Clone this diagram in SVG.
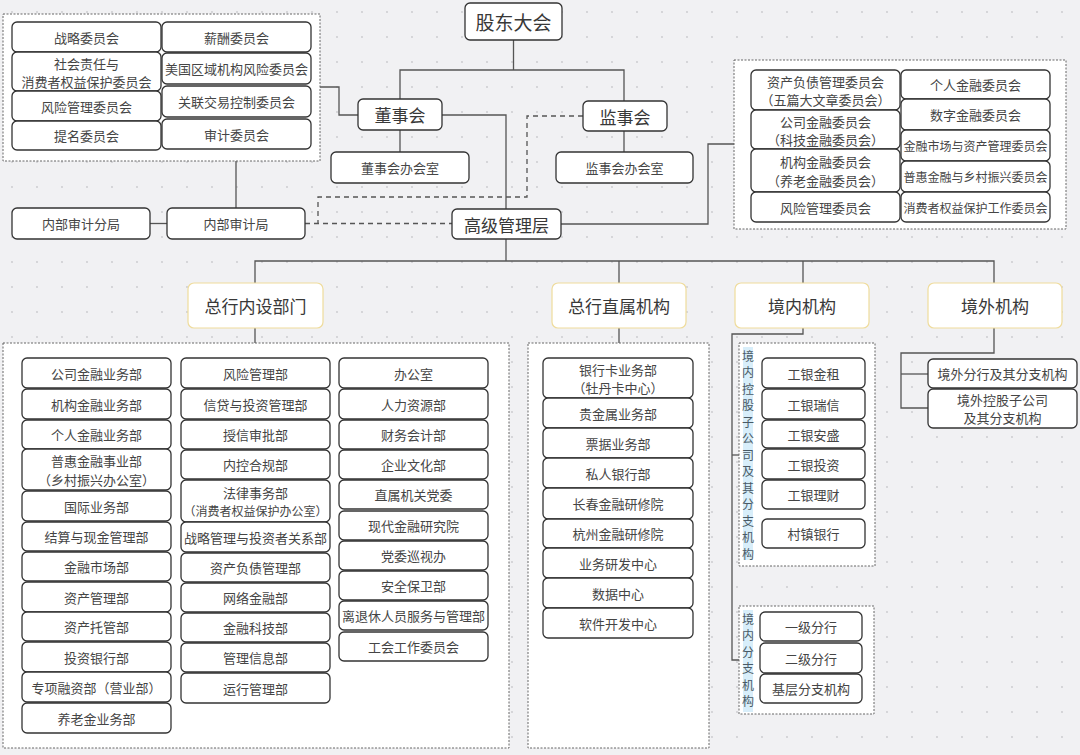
<svg xmlns="http://www.w3.org/2000/svg" width="1080" height="755" viewBox="0 0 1080 755">
<defs>
<pattern id="dots" x="0" y="0" width="25" height="25" patternUnits="userSpaceOnUse">
<circle cx="12" cy="12" r="0.9" fill="#c9c9cc"/>
</pattern>
<style>
.bx{fill:#fff;stroke:#333;stroke-width:1.3}
.cat{fill:#fff;stroke:#efdc9c;stroke-width:1.2}
.cont{fill:#fff;stroke:#666;stroke-width:1;stroke-dasharray:2 1.5}
.t{font-family:"Noto Sans CJK SC","Noto Sans",sans-serif;font-size:13px;fill:#454545;text-anchor:middle;dominant-baseline:central}
.s{font-size:12px}
.L{font-size:17px;fill:#383838}
.v{font-size:12px;fill:#4a5a66}
.ln{fill:none;stroke:#555;stroke-width:1.3}
.dash{stroke-dasharray:5 4}
.vbg{fill:#d8eefa}
</style>
</defs>
<rect width="1080" height="755" fill="#f1f1f3"/>
<rect width="1080" height="755" fill="url(#dots)"/>

<g id="connectors">
<path class="ln" d="M513.5,40 V70"/>
<path class="ln" d="M400,99 V70 H624 V101"/>
<path class="ln" d="M400,130 V152"/>
<path class="ln" d="M624,131 V152"/>
<path class="ln" d="M320,87 H339 V115 H358"/>
<path class="ln" d="M442,115 H506 V209"/>
<path class="ln" d="M236,149 V208"/>
<path class="ln" d="M150,223.5 H167"/>
<path class="ln" d="M561,224 H708 V144 H734"/>
<path class="ln dash" d="M583,116 H527 V197 H318 V223.5"/>
<path class="ln dash" d="M305,223.5 H452"/>
<path class="ln" d="M506,239 V261"/>
<path class="ln" d="M255,283 V261 H994 V283"/>
<path class="ln" d="M619,261 V283"/>
<path class="ln" d="M803,261 V283"/>
<path class="ln" d="M255,328 V343"/>
<path class="ln" d="M619,328 V343"/>
<path class="ln" d="M803,328 V334 H732 V660 H739"/>
<path class="ln" d="M732,455 H739"/>
<path class="ln" d="M994,328 V353 H901 V408 H928"/>
<path class="ln" d="M901,374 H928"/>
</g>

<g id="gudongdahui"><rect class="bx" x="465" y="3" width="97" height="37" rx="5"/><text class="t L" x="513.5" y="21.5" style="font-size:19px">股东大会</text></g>
<g id="dongshihui"><rect class="bx" x="358" y="99" width="84" height="31" rx="5"/><text class="t L" x="400" y="114.5">董事会</text></g>
<g id="jianshihui"><rect class="bx" x="583" y="101" width="84" height="30" rx="5"/><text class="t L" x="625" y="116">监事会</text></g>
<g id="dongshihui-office"><rect class="bx" x="331" y="152" width="138" height="31" rx="5"/><text class="t" x="400" y="167.5">董事会办会室</text></g>
<g id="jianshihui-office"><rect class="bx" x="556" y="152" width="137" height="31" rx="5"/><text class="t" x="624.5" y="167.5">监事会办会室</text></g>
<g id="senior-mgmt"><rect class="bx" x="452" y="209" width="109" height="30" rx="5"/><text class="t L" x="506.5" y="224">高级管理层</text></g>

<g id="board-committees">
<rect class="cont" x="3" y="14" width="317" height="147"/>
<rect class="bx" x="12" y="22" width="149" height="30" rx="5"/><text class="t" x="86.5" y="37">战略委员会</text>
<rect class="bx" x="162" y="22" width="149" height="30" rx="5"/><text class="t" x="236.5" y="37">薪酬委员会</text>
<rect class="bx" x="12" y="52" width="149" height="39" rx="5"/><text class="t" x="86.5" y="63">社会责任与</text><text class="t" x="86.5" y="81">消费者权益保护委员会</text>
<rect class="bx" x="162" y="53" width="149" height="31" rx="5"/><text class="t" x="236.5" y="68.5">美国区域机构风险委员会</text>
<rect class="bx" x="12" y="91" width="149" height="30" rx="5"/><text class="t" x="86.5" y="106">风险管理委员会</text>
<rect class="bx" x="162" y="86" width="149" height="31" rx="5"/><text class="t" x="236.5" y="101.5">关联交易控制委员会</text>
<rect class="bx" x="12" y="121" width="149" height="29" rx="5"/><text class="t" x="86.5" y="135.5">提名委员会</text>
<rect class="bx" x="162" y="119" width="149" height="30" rx="5"/><text class="t" x="236.5" y="134">审计委员会</text>
</g>

<g id="audit-branch"><rect class="bx" x="12" y="208" width="138" height="31" rx="5"/><text class="t" x="81" y="223.5">内部审计分局</text></g>
<g id="audit-bureau"><rect class="bx" x="167" y="208" width="138" height="31" rx="5"/><text class="t" x="236" y="223.5">内部审计局</text></g>

<g id="mgmt-committees">
<rect class="cont" x="734" y="60" width="332" height="169"/>
<rect class="bx" x="751" y="70" width="149" height="40" rx="5"/><text class="t" x="825.5" y="81">资产负债管理委员会</text><text class="t" x="825.5" y="99">（五篇大文章委员会）</text>
<rect class="bx" x="751" y="110" width="149" height="39" rx="5"/><text class="t" x="825.5" y="121">公司金融委员会</text><text class="t" x="825.5" y="139">（科技金融委员会）</text>
<rect class="bx" x="751" y="149" width="149" height="43" rx="5"/><text class="t" x="825.5" y="161">机构金融委员会</text><text class="t" x="825.5" y="180">（养老金融委员会）</text>
<rect class="bx" x="751" y="192" width="149" height="30" rx="5"/><text class="t" x="825.5" y="207">风险管理委员会</text>
<rect class="bx" x="901" y="70" width="149" height="29" rx="5"/><text class="t" x="975.5" y="84.5">个人金融委员会</text>
<rect class="bx" x="901" y="99" width="149" height="31" rx="5"/><text class="t" x="975.5" y="114.5">数字金融委员会</text>
<rect class="bx" x="901" y="130" width="149" height="31" rx="5"/><text class="t s" x="975.5" y="145.5">金融市场与资产管理委员会</text>
<rect class="bx" x="901" y="161" width="149" height="31" rx="5"/><text class="t s" x="975.5" y="176.5">普惠金融与乡村振兴委员会</text>
<rect class="bx" x="901" y="192" width="149" height="30" rx="5"/><text class="t s" x="975.5" y="207">消费者权益保护工作委员会</text>
</g>

<g id="cat-internal"><rect class="cat" x="188" y="283" width="135" height="45" rx="6"/><text class="t L" x="255.5" y="305.5">总行内设部门</text></g>
<g id="cat-direct"><rect class="cat" x="552" y="283" width="134" height="45" rx="6"/><text class="t L" x="619" y="305.5">总行直属机构</text></g>
<g id="cat-domestic"><rect class="cat" x="735" y="283" width="134" height="45" rx="6"/><text class="t L" x="802" y="305.5">境内机构</text></g>
<g id="cat-overseas"><rect class="cat" x="928" y="283" width="134" height="45" rx="6"/><text class="t L" x="995" y="305.5">境外机构</text></g>

<g id="internal-depts">
<rect class="cont" x="3" y="343" width="506" height="405"/>
<rect class="bx" x="22" y="358" width="149" height="30" rx="5"/><text class="t" x="96.5" y="373">公司金融业务部</text>
<rect class="bx" x="22" y="389" width="149" height="30" rx="5"/><text class="t" x="96.5" y="404">机构金融业务部</text>
<rect class="bx" x="22" y="420" width="149" height="29" rx="5"/><text class="t" x="96.5" y="434.5">个人金融业务部</text>
<rect class="bx" x="22" y="449" width="149" height="41" rx="5"/><text class="t" x="96.5" y="460">普惠金融事业部</text><text class="t" x="96.5" y="479">（乡村振兴办公室）</text>
<rect class="bx" x="22" y="491" width="149" height="30" rx="5"/><text class="t" x="96.5" y="506">国际业务部</text>
<rect class="bx" x="22" y="522" width="149" height="29" rx="5"/><text class="t" x="96.5" y="536.5">结算与现金管理部</text>
<rect class="bx" x="22" y="552" width="149" height="29" rx="5"/><text class="t" x="96.5" y="566.5">金融市场部</text>
<rect class="bx" x="22" y="582" width="149" height="30" rx="5"/><text class="t" x="96.5" y="597">资产管理部</text>
<rect class="bx" x="22" y="612" width="149" height="29" rx="5"/><text class="t" x="96.5" y="626.5">资产托管部</text>
<rect class="bx" x="22" y="642" width="149" height="30" rx="5"/><text class="t" x="96.5" y="657">投资银行部</text>
<rect class="bx" x="22" y="672" width="149" height="30" rx="5"/><text class="t" x="96.5" y="687">专项融资部（营业部）</text>
<rect class="bx" x="22" y="703" width="149" height="30" rx="5"/><text class="t" x="96.5" y="718">养老金业务部</text>

<rect class="bx" x="181" y="358" width="149" height="30" rx="5"/><text class="t" x="255.5" y="373">风险管理部</text>
<rect class="bx" x="181" y="389" width="149" height="30" rx="5"/><text class="t" x="255.5" y="404">信贷与投资管理部</text>
<rect class="bx" x="181" y="420" width="149" height="29" rx="5"/><text class="t" x="255.5" y="434.5">授信审批部</text>
<rect class="bx" x="181" y="450" width="149" height="29" rx="5"/><text class="t" x="255.5" y="464.5">内控合规部</text>
<rect class="bx" x="181" y="480" width="149" height="42" rx="5"/><text class="t" x="255.5" y="492">法律事务部</text><text class="t s" x="255.5" y="510">（消费者权益保护办公室）</text>
<rect class="bx" x="181" y="522" width="149" height="30" rx="5"/><text class="t" x="255.5" y="537">战略管理与投资者关系部</text>
<rect class="bx" x="181" y="553" width="149" height="29" rx="5"/><text class="t" x="255.5" y="567.5">资产负债管理部</text>
<rect class="bx" x="181" y="583" width="149" height="29" rx="5"/><text class="t" x="255.5" y="597.5">网络金融部</text>
<rect class="bx" x="181" y="613" width="149" height="29" rx="5"/><text class="t" x="255.5" y="627.5">金融科技部</text>
<rect class="bx" x="181" y="643" width="149" height="29" rx="5"/><text class="t" x="255.5" y="657.5">管理信息部</text>
<rect class="bx" x="181" y="673" width="149" height="30" rx="5"/><text class="t" x="255.5" y="688">运行管理部</text>

<rect class="bx" x="339" y="358" width="149" height="30" rx="5"/><text class="t" x="413.5" y="373">办公室</text>
<rect class="bx" x="339" y="389" width="149" height="30" rx="5"/><text class="t" x="413.5" y="404">人力资源部</text>
<rect class="bx" x="339" y="420" width="149" height="29" rx="5"/><text class="t" x="413.5" y="434.5">财务会计部</text>
<rect class="bx" x="339" y="450" width="149" height="29" rx="5"/><text class="t" x="413.5" y="464.5">企业文化部</text>
<rect class="bx" x="339" y="480" width="149" height="29" rx="5"/><text class="t" x="413.5" y="494.5">直属机关党委</text>
<rect class="bx" x="339" y="511" width="149" height="29" rx="5"/><text class="t" x="413.5" y="525.5">现代金融研究院</text>
<rect class="bx" x="339" y="541" width="149" height="29" rx="5"/><text class="t" x="413.5" y="555.5">党委巡视办</text>
<rect class="bx" x="339" y="571" width="149" height="29" rx="5"/><text class="t" x="413.5" y="585.5">安全保卫部</text>
<rect class="bx" x="339" y="601" width="149" height="29" rx="5"/><text class="t" x="413.5" y="615.5">离退休人员服务与管理部</text>
<rect class="bx" x="339" y="632" width="149" height="29" rx="5"/><text class="t" x="413.5" y="646.5">工会工作委员会</text>
</g>

<g id="direct-units">
<rect class="cont" x="528" y="343" width="181" height="405"/>
<rect class="bx" x="543" y="358" width="150" height="40" rx="5"/><text class="t" x="618" y="369">银行卡业务部</text><text class="t" x="618" y="387">（牡丹卡中心）</text>
<rect class="bx" x="543" y="398" width="150" height="30" rx="5"/><text class="t" x="618" y="413">贵金属业务部</text>
<rect class="bx" x="543" y="428" width="150" height="30" rx="5"/><text class="t" x="618" y="443">票据业务部</text>
<rect class="bx" x="543" y="458" width="150" height="30" rx="5"/><text class="t" x="618" y="473">私人银行部</text>
<rect class="bx" x="543" y="488" width="150" height="31" rx="5"/><text class="t" x="618" y="503.5">长春金融研修院</text>
<rect class="bx" x="543" y="519" width="150" height="29" rx="5"/><text class="t" x="618" y="533.5">杭州金融研修院</text>
<rect class="bx" x="543" y="548" width="150" height="30" rx="5"/><text class="t" x="618" y="563">业务研发中心</text>
<rect class="bx" x="543" y="578" width="150" height="30" rx="5"/><text class="t" x="618" y="593">数据中心</text>
<rect class="bx" x="543" y="608" width="150" height="30" rx="5"/><text class="t" x="618" y="623">软件开发中心</text>
</g>

<g id="domestic-subsidiaries">
<rect class="cont" x="739" y="343" width="136" height="223"/>
<rect class="vbg" x="743" y="347" width="10" height="213"/>
<text class="t v" x="748" y="355">境</text><text class="t v" x="748" y="371.5">内</text><text class="t v" x="748" y="388">控</text><text class="t v" x="748" y="404.5">股</text><text class="t v" x="748" y="421">子</text><text class="t v" x="748" y="437.5">公</text><text class="t v" x="748" y="454">司</text><text class="t v" x="748" y="470.5">及</text><text class="t v" x="748" y="487">其</text><text class="t v" x="748" y="503.5">分</text><text class="t v" x="748" y="520">支</text><text class="t v" x="748" y="536.5">机</text><text class="t v" x="748" y="553">构</text>
<rect class="bx" x="762" y="358" width="103" height="30" rx="5"/><text class="t" x="813.5" y="373">工银金租</text>
<rect class="bx" x="762" y="389" width="103" height="30" rx="5"/><text class="t" x="813.5" y="404">工银瑞信</text>
<rect class="bx" x="762" y="420" width="103" height="28" rx="5"/><text class="t" x="813.5" y="434">工银安盛</text>
<rect class="bx" x="762" y="449" width="103" height="30" rx="5"/><text class="t" x="813.5" y="464">工银投资</text>
<rect class="bx" x="762" y="480" width="103" height="29" rx="5"/><text class="t" x="813.5" y="494.5">工银理财</text>
<rect class="bx" x="762" y="519" width="103" height="29" rx="5"/><text class="t" x="813.5" y="533.5">村镇银行</text>
</g>

<g id="domestic-branches">
<rect class="cont" x="739" y="606" width="135" height="108"/>
<rect class="vbg" x="743" y="610" width="10" height="102"/>
<text class="t v" x="748" y="618">境</text><text class="t v" x="748" y="634.5">内</text><text class="t v" x="748" y="651">分</text><text class="t v" x="748" y="667.5">支</text><text class="t v" x="748" y="684">机</text><text class="t v" x="748" y="700.5">构</text>
<rect class="bx" x="760" y="612" width="102" height="29" rx="5"/><text class="t" x="811" y="626.5">一级分行</text>
<rect class="bx" x="760" y="643" width="102" height="30" rx="5"/><text class="t" x="811" y="658">二级分行</text>
<rect class="bx" x="760" y="674" width="102" height="29" rx="5"/><text class="t" x="811" y="688.5">基层分支机构</text>
</g>

<g id="overseas-branches"><rect class="bx" x="928" y="359" width="149" height="29" rx="5"/><text class="t" x="1002.5" y="373.5">境外分行及其分支机构</text></g>
<g id="overseas-subsidiaries"><rect class="bx" x="928" y="389" width="149" height="39" rx="5"/><text class="t" x="1002.5" y="399.5">境外控股子公司</text><text class="t" x="1002.5" y="417.5">及其分支机构</text></g>
</svg>
